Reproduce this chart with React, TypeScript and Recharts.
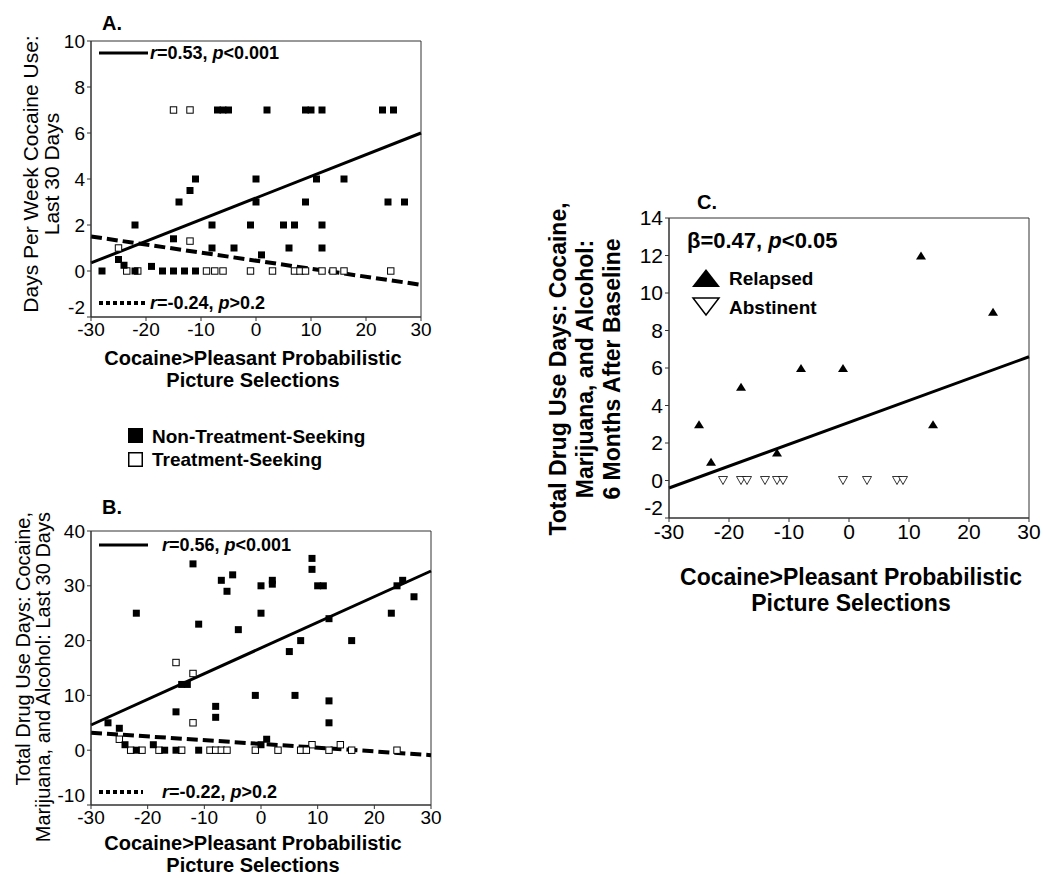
import React from 'react';
import { ScatterChart, Scatter, XAxis, YAxis, ReferenceLine, ReferenceArea } from 'recharts';

const FONT = '"Liberation Sans", Arial, Helvetica, sans-serif';

const xTicks = [-30, -20, -10, 0, 10, 20, 30];
const aYTicks = [-2, 0, 2, 4, 6, 8, 10];
const bYTicks = [-10, 0, 10, 20, 30, 40];
const cYTicks = [-2, 0, 2, 4, 6, 8, 10, 12, 14];

// A. days per week cocaine use  [x, y]
const aNonTreatment = [
  [-7, 7], [-6, 7], [-5, 7], [2, 7], [9, 7], [10, 7], [12, 7], [23, 7], [25, 7],
  [-11, 4], [0, 4], [11, 4], [16, 4], [-12, 3.5],
  [-14, 3], [0, 3], [9, 3], [24, 3], [27, 3],
  [-22, 2], [-8, 2], [-1, 2], [5, 2], [7, 2], [12, 2],
  [-15, 1.4], [-8, 1], [-4, 1], [6, 1], [12, 1], [1, 0.7],
  [-25, 0.5], [-24, 0.25], [-19, 0.2],
  [-28, 0], [-22, 0], [-17, 0], [-15, 0], [-13, 0], [-11, 0],
];
const aTreatment = [
  [-15, 7], [-12, 7], [-25, 1], [-12, 1.3],
  [-23.5, 0], [-21.5, 0], [-9, 0], [-7.5, 0], [-6, 0], [-1, 0], [3, 0],
  [7, 0], [8, 0], [9, 0], [12, 0], [14, 0], [16, 0], [24.5, 0],
];
const aFitNonTreatment = [{ x: -30, y: 0.35 }, { x: 30, y: 6.0 }];
const aFitTreatment = [{ x: -30, y: 1.5 }, { x: 30, y: -0.6 }];

// B. total drug use days, last 30 days
const bNonTreatment = [
  [9, 35], [9, 33], [-12, 34], [-7, 31], [-5, 32], [-6, 29], [0, 30], [2, 31], [2, 30.3],
  [10, 30], [11, 30], [24, 30], [25, 31], [27, 28],
  [-22, 25], [0, 25], [23, 25], [-11, 23], [-4, 22], [12, 24],
  [7, 20], [16, 20], [5, 18], [-14, 12], [-13, 12],
  [-1, 10], [6, 10], [-8, 8], [-8, 6], [-15, 7], [12, 9], [12, 5],
  [-27, 5], [-25, 4], [-24, 1], [-19, 1], [1, 2], [0, 1],
  [-22, 0], [-17, 0], [-15, 0], [-11, 0],
];
const bTreatment = [
  [-15, 16], [-12, 14], [-12, 5], [-25, 2], [9, 1], [14, 1],
  [-23, 0], [-21, 0], [-18, 0], [-14, 0], [-9, 0], [-8, 0], [-7, 0], [-6, 0],
  [-1, 0], [3, 0], [7, 0], [8, 0], [12, 0], [16, 0], [24, 0],
];
const bFitNonTreatment = [{ x: -30, y: 4.6 }, { x: 30, y: 32.7 }];
const bFitTreatment = [{ x: -30, y: 3.2 }, { x: 30, y: -0.9 }];

// C. 6 month follow-up
const cRelapsed = [[-25, 3], [-23, 1], [-18, 5], [-12, 1.5], [-8, 6], [-1, 6], [12, 12], [14, 3], [24, 9]];
const cAbstinent = [[-21, 0], [-18, 0], [-17, 0], [-14, 0], [-12, 0], [-11, 0], [-1, 0], [3, 0], [8, 0], [9, 0]];
const cFit = [{ x: -30, y: -0.4 }, { x: 30, y: 6.6 }];

const toPts = (arr: number[][]) => arr.map(([x, y]) => ({ x, y }));

const FilledSquare = (p: any) => <rect x={p.cx - 3.5} y={p.cy - 3.5} width={7} height={7} fill="#000" />;
const OpenSquare = (p: any) => (
  <rect x={p.cx - 3.2} y={p.cy - 3.2} width={6.4} height={6.4} fill="#fff" stroke="#000" strokeWidth={1} />
);
const UpTriangle = (p: any) => (
  <polygon points={`${p.cx - 5},${p.cy + 4} ${p.cx + 5},${p.cy + 4} ${p.cx},${p.cy - 4}`} fill="#000" />
);
const DownTriangle = (p: any) => (
  <polygon
    points={`${p.cx - 4.5},${p.cy - 4} ${p.cx + 4.5},${p.cy - 4} ${p.cx},${p.cy + 4}`}
    fill="#fff"
    stroke="#000"
    strokeWidth={0.8}
  />
);

// y tick labels; the lowest one is lifted a little, as in the original figure
const yTick = (lowest: number, size: number) => (p: any) => (
  <text
    x={p.x}
    y={p.y + (p.payload.value === lowest ? -10 : 0)}
    dy="0.35em"
    textAnchor="end"
    fontSize={size}
    fontFamily={FONT}
    fill="#000"
  >
    {p.payload.value}
  </text>
);

const axisStroke = { stroke: '#333' };
const tickSmall = { fill: '#000', fontSize: 19, fontFamily: FONT };
const tickLarge = { fill: '#000', fontSize: 21, fontFamily: FONT };

const T = (props: any) => <text fontFamily={FONT} fill="#000" {...props} />;

const App: React.FC = () => {
  return (
    <div style={{ position: 'absolute', left: 0, top: 0, width: 1050, height: 883, background: '#fff' }}>
      {/* A */}
      <div style={{ position: 'absolute', left: 0, top: 0 }}>
        <ScatterChart width={440} height={345} margin={{ top: 41, right: 19, bottom: 0, left: 41 }}>
          <XAxis type="number" dataKey="x" domain={[-30, 30]} ticks={xTicks} height={28} tickSize={4}
            tick={tickSmall} tickLine={axisStroke} axisLine={axisStroke} allowDataOverflow />
          <YAxis type="number" dataKey="y" domain={[-2, 10]} ticks={aYTicks} width={50} tickSize={4}
            tick={yTick(-2, 19)} tickLine={axisStroke} axisLine={axisStroke} allowDataOverflow />
          <ReferenceArea x1={-30} x2={30} y1={-2} y2={10} fill="none" stroke="#333" />
          <Scatter data={toPts(aTreatment)} shape={OpenSquare} isAnimationActive={false} />
          <Scatter data={toPts(aNonTreatment)} shape={FilledSquare} isAnimationActive={false} />
          <ReferenceLine segment={aFitNonTreatment} stroke="#000" strokeWidth={3} />
          <ReferenceLine segment={aFitTreatment} stroke="#000" strokeWidth={4} strokeDasharray="11 5" />
        </ScatterChart>
      </div>

      {/* B */}
      <div style={{ position: 'absolute', left: 0, top: 500 }}>
        <ScatterChart width={450} height={335} margin={{ top: 31, right: 19, bottom: 0, left: 41 }}>
          <XAxis type="number" dataKey="x" domain={[-30, 30]} ticks={xTicks} height={30} tickSize={4}
            tick={tickSmall} tickLine={axisStroke} axisLine={axisStroke} allowDataOverflow />
          <YAxis type="number" dataKey="y" domain={[-10, 40]} ticks={bYTicks} width={50} tickSize={4}
            tick={yTick(-10, 19)} tickLine={axisStroke} axisLine={axisStroke} allowDataOverflow />
          <ReferenceArea x1={-30} x2={30} y1={-10} y2={40} fill="none" stroke="#333" />
          <Scatter data={toPts(bTreatment)} shape={OpenSquare} isAnimationActive={false} />
          <Scatter data={toPts(bNonTreatment)} shape={FilledSquare} isAnimationActive={false} />
          <ReferenceLine segment={bFitNonTreatment} stroke="#000" strokeWidth={3} />
          <ReferenceLine segment={bFitTreatment} stroke="#000" strokeWidth={4} strokeDasharray="11 5" />
        </ScatterChart>
      </div>

      {/* C */}
      <div style={{ position: 'absolute', left: 620, top: 190 }}>
        <ScatterChart width={430} height={360} margin={{ top: 28, right: 21, bottom: 2, left: 0 }}>
          <XAxis type="number" dataKey="x" domain={[-30, 30]} ticks={xTicks} height={30} tickSize={4}
            tick={tickLarge} tickLine={axisStroke} axisLine={axisStroke} allowDataOverflow />
          <YAxis type="number" dataKey="y" domain={[-2, 14]} ticks={cYTicks} width={49} tickSize={4}
            tick={yTick(-2, 21)} tickLine={axisStroke} axisLine={axisStroke} allowDataOverflow />
          <ReferenceArea x1={-30} x2={30} y1={-2} y2={14} fill="none" stroke="#333" />
          <Scatter data={toPts(cAbstinent)} shape={DownTriangle} isAnimationActive={false} />
          <Scatter data={toPts(cRelapsed)} shape={UpTriangle} isAnimationActive={false} />
          <ReferenceLine segment={cFit} stroke="#000" strokeWidth={3} />
        </ScatterChart>
      </div>

      {/* titles, panel letters, legends */}
      <svg width={1050} height={883} style={{ position: 'absolute', left: 0, top: 0, pointerEvents: 'none' }}>
        <T x={102} y={23} dy="0.35em" fontSize={20} fontWeight="bold">A.</T>
        <T x={102} y={507} dy="0.35em" fontSize={20} fontWeight="bold">B.</T>
        <T x={697} y={202} dy="0.35em" fontSize={20} fontWeight="bold">C.</T>

        {/* A legend inside plot */}
        <line x1={99} y1={53} x2={148} y2={53} stroke="#000" strokeWidth={3} />
        <T x={150} y={53} dy="0.35em" fontSize={18} fontWeight="bold">
          <tspan fontStyle="italic">r</tspan>=0.53, <tspan fontStyle="italic">p</tspan>&lt;0.001
        </T>
        <line x1={99} y1={303} x2={148} y2={303} stroke="#000" strokeWidth={4} strokeDasharray="4 3" />
        <T x={150} y={303} dy="0.35em" fontSize={18} fontWeight="bold">
          <tspan fontStyle="italic">r</tspan>=-0.24, <tspan fontStyle="italic">p</tspan>&gt;0.2
        </T>

        {/* B legend inside plot */}
        <line x1={99} y1={545} x2={148} y2={545} stroke="#000" strokeWidth={3} />
        <T x={162} y={545} dy="0.35em" fontSize={18} fontWeight="bold">
          <tspan fontStyle="italic">r</tspan>=0.56, <tspan fontStyle="italic">p</tspan>&lt;0.001
        </T>
        <line x1={99} y1={792} x2={143} y2={792} stroke="#000" strokeWidth={4} strokeDasharray="4 3" />
        <T x={162} y={792} dy="0.35em" fontSize={18} fontWeight="bold">
          <tspan fontStyle="italic">r</tspan>=-0.22, <tspan fontStyle="italic">p</tspan>&gt;0.2
        </T>

        {/* shared A/B legend */}
        <rect x={128} y={428} width={15} height={15} fill="#000" />
        <T x={152} y={436} dy="0.35em" fontSize={19} fontWeight="bold">Non-Treatment-Seeking</T>
        <rect x={128.75} y={452.75} width={13.5} height={13.5} fill="#fff" stroke="#000" strokeWidth={1.5} />
        <T x={152} y={459} dy="0.35em" fontSize={19} fontWeight="bold">Treatment-Seeking</T>

        {/* C legend */}
        <T x={687} y={240} dy="0.35em" fontSize={22} fontWeight="bold">
          β=0.47, <tspan fontStyle="italic">p</tspan>&lt;0.05
        </T>
        <polygon points="692,287 720,287 706,269" fill="#000" />
        <T x={729} y={278} dy="0.35em" fontSize={19} fontWeight="bold">Relapsed</T>
        <polygon points="693,298 719,298 706,315" fill="#fff" stroke="#000" strokeWidth={1.5} />
        <T x={729} y={307} dy="0.35em" fontSize={19} fontWeight="bold">Abstinent</T>

        {/* A axis titles */}
        <T transform="translate(31,174) rotate(-90)" textAnchor="middle" dy="0.35em" fontSize={21}>
          Days Per Week Cocaine Use:
        </T>
        <T transform="translate(52,174) rotate(-90)" textAnchor="middle" dy="0.35em" fontSize={21}>
          Last 30 Days
        </T>
        <T x={253} y={358} textAnchor="middle" dy="0.35em" fontSize={20} fontWeight="bold">
          Cocaine&gt;Pleasant Probabilistic
        </T>
        <T x={253} y={380} textAnchor="middle" dy="0.35em" fontSize={20} fontWeight="bold">
          Picture Selections
        </T>

        {/* B axis titles */}
        <T transform="translate(23,512) rotate(-90)" textAnchor="end" dy="0.35em" fontSize={20}>
          Total Drug Use Days: Cocaine,
        </T>
        <T transform="translate(43,512) rotate(-90)" textAnchor="end" dy="0.35em" fontSize={20}>
          Marijuana, and Alcohol: Last 30 Days
        </T>
        <T x={253} y={843} textAnchor="middle" dy="0.35em" fontSize={20} fontWeight="bold">
          Cocaine&gt;Pleasant Probabilistic
        </T>
        <T x={253} y={865} textAnchor="middle" dy="0.35em" fontSize={20} fontWeight="bold">
          Picture Selections
        </T>

        {/* C axis titles */}
        <T transform="translate(558,369) rotate(-90)" textAnchor="middle" dy="0.35em" fontSize={23} fontWeight="bold">
          Total Drug Use Days: Cocaine,
        </T>
        <T transform="translate(585,369) rotate(-90)" textAnchor="middle" dy="0.35em" fontSize={23} fontWeight="bold">
          Marijuana, and Alcohol:
        </T>
        <T transform="translate(612,369) rotate(-90)" textAnchor="middle" dy="0.35em" fontSize={23} fontWeight="bold">
          6 Months After Baseline
        </T>
        <T x={851} y={577} textAnchor="middle" dy="0.35em" fontSize={23} fontWeight="bold">
          Cocaine&gt;Pleasant Probabilistic
        </T>
        <T x={851} y={603} textAnchor="middle" dy="0.35em" fontSize={23} fontWeight="bold">
          Picture Selections
        </T>
      </svg>
    </div>
  );
};

export default App;
